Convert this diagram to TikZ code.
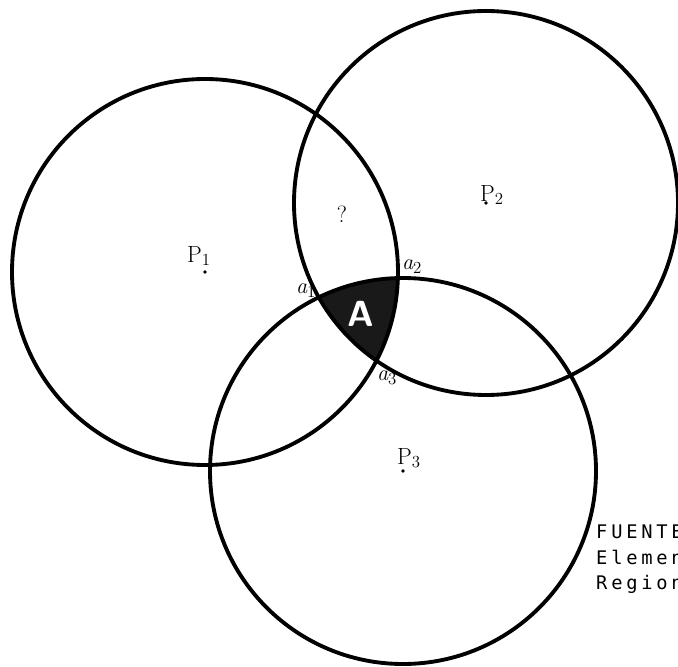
\documentclass[tikz,border=0pt]{standalone}
\usepackage{fontspec}
\newfontfamily\typefont[LetterSpace=20]{DejaVu Sans Mono}

\begin{document}
\begin{tikzpicture}[
  x=0.3mm, y=0.3mm,
  ring/.style={line width=3.3pt},
  lab/.style={font=\fontsize{20}{22}\selectfont, inner sep=1pt},
  vtx/.style={font=\fontsize{19}{21}\selectfont\itshape, inner sep=1pt},
  area/.style={font=\fontsize{31}{31}\selectfont\sffamily\bfseries, text=white, inner sep=0pt},
  src/.style={font=\typefont\fontsize{16}{21.7}\selectfont, align=left, inner sep=0pt},
]
  \useasboundingbox (0,0) rectangle (678,666);
  \clip (0,0) rectangle (678,666);

  \coordinate (c1) at (205,394);
  \coordinate (c2) at (486,463);
  \coordinate (c3) at (403,195);

  \begin{scope}
    \clip (c1) circle (193);
    \clip (c2) circle (192);
    \fill[black!90] (c3) circle (193);
  \end{scope}

  \foreach \c/\r in {c1/193, c2/192, c3/193} {
    \draw[ring] (\c) circle (\r);
    \fill (\c) circle (1.8);
  }

  \node[lab] (p1) at (199,410) {P$_1$};
  \node[lab] (p2) at (492,471) {P$_2$};
  \node[lab] (p3) at (409,208) {P$_3$};
  \node[lab] (q) at (342,452) {?};

  \node[vtx] (a1) at (306,375) {a$_1$};
  \node[vtx] (a2) at (412,399) {a$_2$};
  \node[vtx] (a3) at (387,288) {a$_3$};
  \node[area] (A) at (361,352) {A};

  \node[src, anchor=north west] (src) at (596,141) {FUENTE\\Elemen\\Region};
\end{tikzpicture}
\end{document}
